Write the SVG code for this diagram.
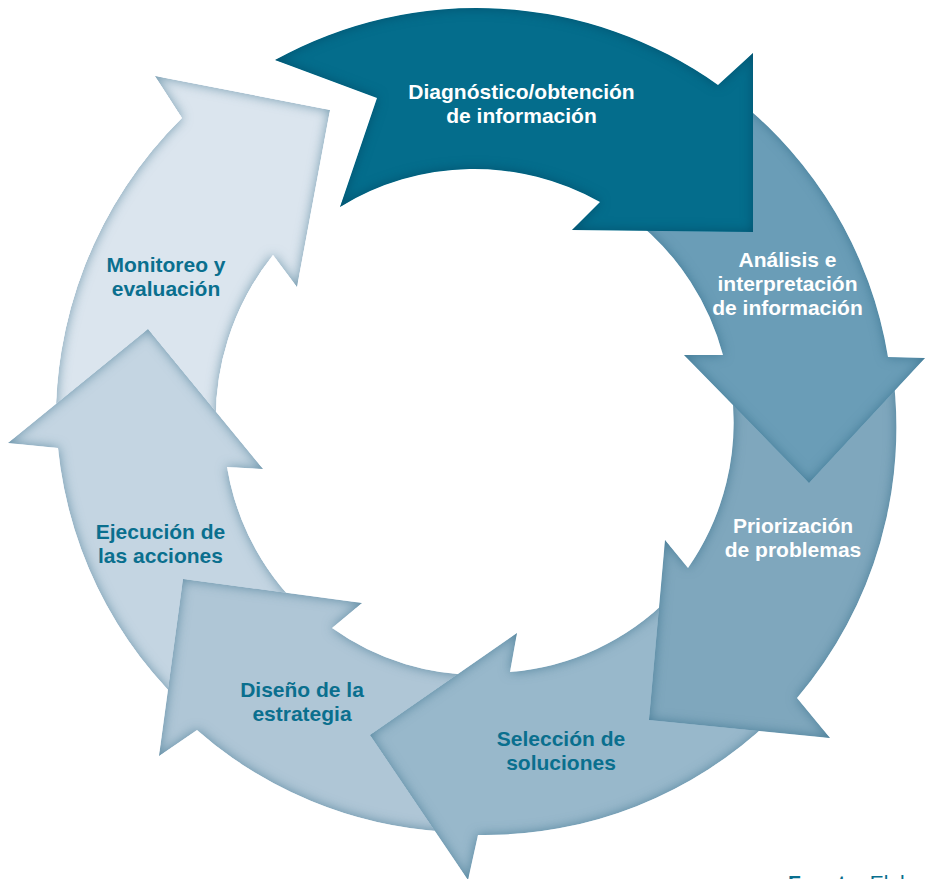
<svg xmlns="http://www.w3.org/2000/svg" width="925" height="879" viewBox="0 0 925 879">
  <defs>
    <filter id="bevel" x="-5%" y="-5%" width="110%" height="110%" color-interpolation-filters="sRGB">
      <feGaussianBlur in="SourceAlpha" stdDeviation="6" result="blur"/>
      <feComposite in="SourceAlpha" in2="blur" operator="arithmetic" k1="0" k2="1" k3="-1" k4="0" result="edge"/>
      <feFlood flood-color="#1f5c7a" flood-opacity="0.55" result="col"/>
      <feComposite in="col" in2="edge" operator="in" result="shade"/>
      <feMerge><feMergeNode in="SourceGraphic"/><feMergeNode in="shade"/></feMerge>
    </filter>
    <filter id="bevelDark" x="-5%" y="-5%" width="110%" height="110%" color-interpolation-filters="sRGB">
      <feGaussianBlur in="SourceAlpha" stdDeviation="6" result="blur"/>
      <feComposite in="SourceAlpha" in2="blur" operator="arithmetic" k1="0" k2="1" k3="-1" k4="0" result="edge"/>
      <feFlood flood-color="#01405a" flood-opacity="0.6" result="col"/>
      <feComposite in="col" in2="edge" operator="in" result="shade"/>
      <feMerge><feMergeNode in="SourceGraphic"/><feMergeNode in="shade"/></feMerge>
    </filter>
  </defs>
  <style>
    .arrow { stroke: none; filter: url(#bevel); }
    .lbl { font-family: "Liberation Sans", Arial, sans-serif; font-weight: bold; font-size: 21px; text-anchor: middle; }
    .w { fill: #ffffff; }
    .t { fill: #0a6f8e; }
    .src { font-family: "Liberation Sans", Arial, sans-serif; font-size: 21px; fill: #0a6f8e; }
  </style>
  <rect width="925" height="879" fill="#ffffff"/>

  <g id="connectors"/>

  <g id="monitoreo">
    <path class="arrow" fill="#dbe5ee" d="M 56.3,439.7 A 424 424 0 0 1 182,118 L 155,76 L 330,110 L 297,287 L 273,255 A 262 262 0 0 0 216.2,434.1 Z"/>
    <text class="lbl t" x="166" y="272">Monitoreo y</text>
    <text class="lbl t" x="166" y="296">evaluación</text>
  </g>

  <g id="ejecucion">
    <path class="arrow" fill="#c4d5e2" d="M 212.3,730.7 A 415 415 0 0 1 58,448 L 8,443 L 148,329 L 263,469 L 227,467 A 254 254 0 0 0 310.7,617.5 Z"/>
    <text class="lbl t" x="160.5" y="539">Ejecución de</text>
    <text class="lbl t" x="160.5" y="563">las acciones</text>
  </g>

  <g id="diseno">
    <path class="arrow" fill="#afc6d6" d="M 442.4,831.4 A 411 411 0 0 1 197,730 L 159,756 L 183,579 L 362,603 L 332,628 A 250 250 0 0 0 486.7,674.8 Z"/>
    <text class="lbl t" x="302" y="697">Diseño de la</text>
    <text class="lbl t" x="302" y="721">estrategia</text>
  </g>

  <g id="seleccion">
    <path class="arrow" fill="#98b8cb" d="M 772,719 A 414 414 0 0 1 478,835 L 468,880 L 370,735 L 517,633 L 510,672 A 252 252 0 0 0 669.7,597.6 Z"/>
    <text class="lbl t" x="561" y="746">Selección de</text>
    <text class="lbl t" x="561" y="770">soluciones</text>
  </g>

  <g id="priorizacion">
    <path class="arrow" fill="#7fa7bd" d="M 892,367 A 418 418 0 0 1 797,698 L 830,738 L 649,720 L 665,540 L 688,568 A 255 255 0 0 0 731.5,389.4 Z"/>
    <text class="lbl w" x="793" y="533">Priorización</text>
    <text class="lbl w" x="793" y="557">de problemas</text>
  </g>

  <g id="analisis">
    <path class="arrow" fill="#6a9db7" d="M 734,97 A 416 416 0 0 1 888,357 L 925,358 L 809,483 L 684,355 L 723,355 A 256 256 0 0 0 637,222 Z"/>
    <text class="lbl w" x="787.5" y="267">Análisis e</text>
    <text class="lbl w" x="787.5" y="291">interpretación</text>
    <text class="lbl w" x="787.5" y="315">de información</text>
  </g>

  <g id="diagnostico">
    <path class="arrow" fill="#046d8c" style="filter:url(#bevelDark)" d="M 275,60 A 417 417 0 0 1 718,85 L 753,53 L 753,232 L 572,230 L 600,202 A 256 256 0 0 0 340,207 L 377,98 Z"/>
    <text class="lbl w" x="521.5" y="99">Diagnóstico/obtención</text>
    <text class="lbl w" x="521.5" y="123">de información</text>
  </g>

  <text class="src" x="788" y="890"><tspan font-weight="bold">Fuente:</tspan> Elaboración</text>
</svg>
